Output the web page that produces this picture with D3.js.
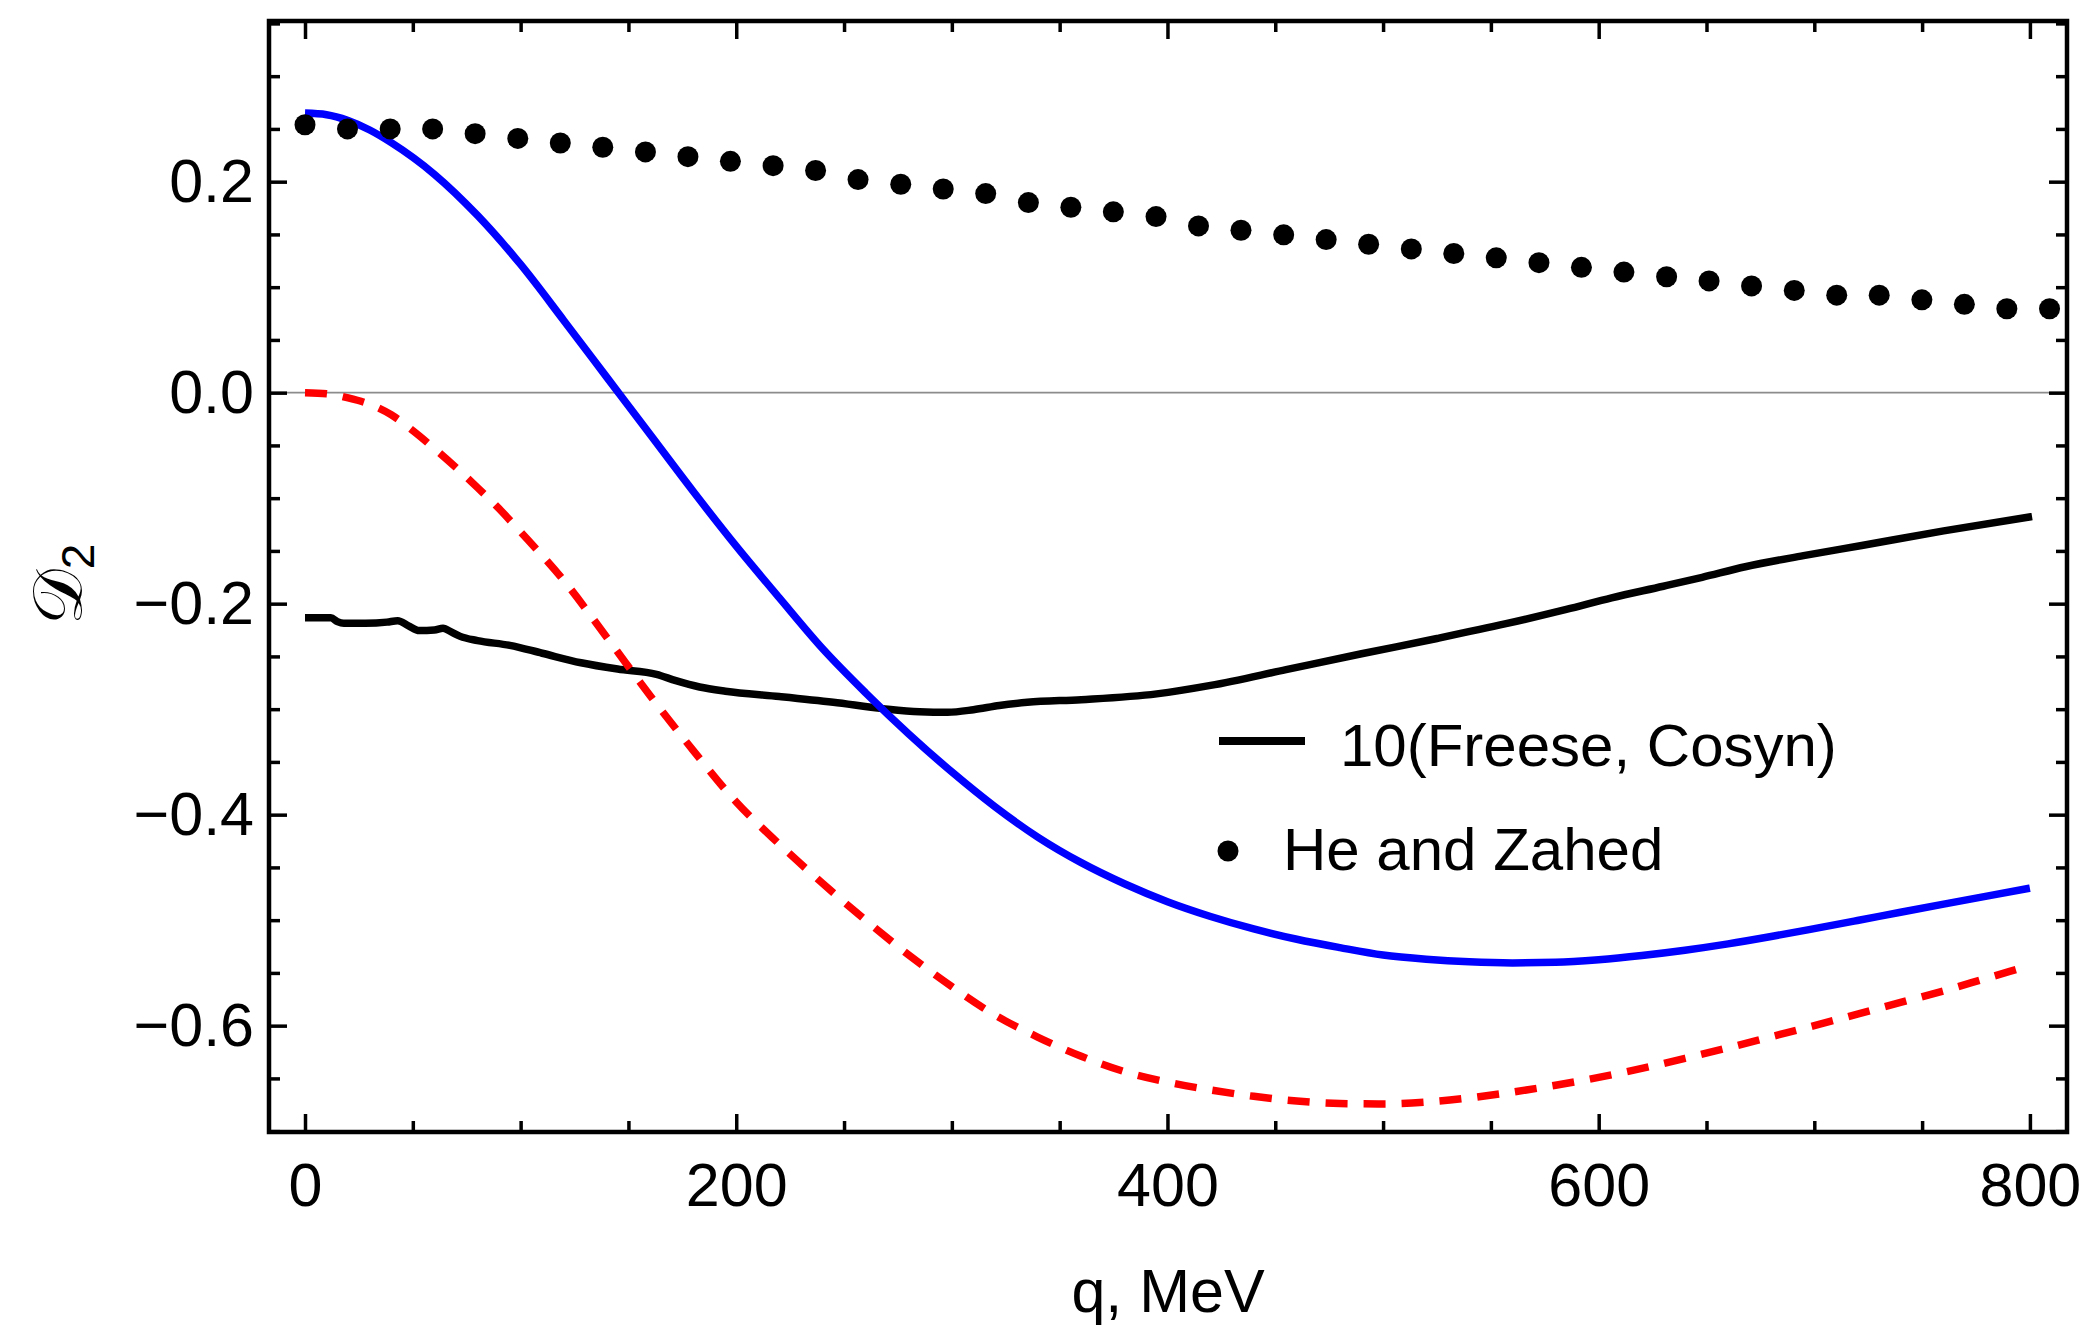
<!DOCTYPE html>
<html>
<head>
<meta charset="utf-8">
<script src="https://cdn.jsdelivr.net/npm/d3@7"></script>
<style>
  body { margin: 0; background: #fff; }
  text { font-family: "Liberation Sans", Arial, sans-serif; }
</style>
</head>
<body>
<div id="chart"></div>
<script>
// axis ticks
const qTicks = [0, 200, 400, 600, 800]
const qMinor = [50, 100, 150, 250, 300, 350, 450, 500, 550, 650, 700, 750]
const dTicks = [-0.6, -0.4, -0.2, 0, 0.2]
const dMinor = [-0.7, -0.65, -0.55, -0.5, -0.45, -0.35, -0.3, -0.25, -0.15, -0.1, -0.05, 0.05, 0.1, 0.15, 0.25, 0.3, 0.35]

// blue solid curve
const blueQ = [0, 10, 20, 30, 40, 60, 80, 100, 120, 140, 160, 180, 200, 220, 240, 260, 280, 300, 320, 340, 360, 380, 400, 420, 440, 460, 480, 500, 520, 540, 560, 580, 600, 620, 640, 660, 680, 700, 720, 740, 760, 780, 800]
const blueD = [0.265, 0.2635, 0.258, 0.249, 0.237, 0.207, 0.168, 0.1215, 0.0685, 0.0145, -0.0395, -0.0935, -0.1455, -0.1945, -0.2425, -0.2845, -0.3235, -0.3595, -0.3925, -0.4215, -0.4455, -0.4655, -0.4825, -0.4965, -0.5083, -0.5181, -0.5260, -0.5330, -0.5370, -0.5395, -0.5405, -0.5400, -0.5375, -0.5335, -0.5285, -0.5225, -0.5155, -0.5080, -0.5003, -0.4925, -0.4848, -0.4772, -0.4697]

// red dashed curve
const redQ = [0, 10, 20, 30, 40, 50, 60, 70, 80, 90, 100, 120, 140, 160, 180, 200, 220, 240, 260, 280, 300, 320, 340, 360, 380, 400, 420, 440, 460, 480, 500, 520, 540, 560, 580, 600, 620, 640, 660, 680, 700, 720, 740, 760, 780, 800]
const redD = [0.0, -0.001, -0.005, -0.011, -0.021, -0.036, -0.053, -0.071, -0.090, -0.110, -0.132, -0.178, -0.232, -0.287, -0.339, -0.388, -0.428, -0.465, -0.500, -0.533, -0.563, -0.590, -0.611, -0.629, -0.6435, -0.6535, -0.661, -0.667, -0.6715, -0.6738, -0.6742, -0.6725, -0.6685, -0.663, -0.6565, -0.649, -0.6405, -0.631, -0.621, -0.6105, -0.600, -0.589, -0.578, -0.567, -0.555, -0.543]

// 10(Freese, Cosyn)
const freeseQ = [0, 12, 15, 18, 28, 38, 43, 48, 53, 60, 64, 68, 72, 80, 95, 110, 128, 145, 163, 172, 183, 195, 220, 245, 268, 285, 298, 310, 322, 335, 360, 395, 420, 455, 490, 525, 557, 585, 606, 630, 648, 668, 695, 722, 760, 801]
const freeseD = [-0.2133, -0.2133, -0.2170, -0.2186, -0.2186, -0.2175, -0.2161, -0.2210, -0.2255, -0.2250, -0.2233, -0.2270, -0.2310, -0.2350, -0.2395, -0.2470, -0.2560, -0.2620, -0.2670, -0.2730, -0.2790, -0.2830, -0.2880, -0.2935, -0.2995, -0.3025, -0.3030, -0.3005, -0.2965, -0.2935, -0.2910, -0.2855, -0.2775, -0.2625, -0.2475, -0.2330, -0.2190, -0.2055, -0.1945, -0.1835, -0.1750, -0.1650, -0.1545, -0.1448, -0.1310, -0.1175]

// He and Zahed
const heQ = [0, 19.7, 39.5, 59.2, 78.9, 98.7, 118.4, 138.1, 157.9, 177.6, 197.3, 217.1, 236.8, 256.5, 276.3, 296.0, 315.7, 335.5, 355.2, 374.9, 394.7, 414.4, 434.1, 453.9, 473.6, 493.3, 513.1, 532.8, 552.5, 572.3, 592.0, 611.7, 631.5, 651.2, 670.9, 690.7, 710.4, 730.1, 749.9, 769.6, 789.3, 809.1]
const heD = [0.254, 0.250, 0.250, 0.250, 0.2455, 0.241, 0.2367, 0.2326, 0.2282, 0.2237, 0.2193, 0.2152, 0.2106, 0.2020, 0.1976, 0.1931, 0.1887, 0.1802, 0.1758, 0.1714, 0.1669, 0.1581, 0.1540, 0.1496, 0.1451, 0.1407, 0.1363, 0.1319, 0.1278, 0.1232, 0.1188, 0.1143, 0.1099, 0.1059, 0.1012, 0.0969, 0.0924, 0.0924, 0.0880, 0.0837, 0.0795, 0.0795]

const legendLabels = ["10(Freese, Cosyn)", "He and Zahed"]

const width = 2091
const height = 1326
const plotLeft = 269, plotRight = 2067, plotTop = 21, plotBottom = 1132
const fontSize = 61
const majorLen = 18
const minorLen = 11
const lineW = 7.5

const svg = d3.select("#chart")
  .append("svg")
  .attr("width", width)
  .attr("height", height)

svg.append("rect")
  .attr("width", width)
  .attr("height", height)
  .attr("fill", "white")

const x = d3.scaleLinear()
  .domain([-16.7, 817.2])
  .range([plotLeft, plotRight])
const y = d3.scaleLinear()
  .domain([-0.7008, 0.3523])
  .range([plotBottom, plotTop])

const zip = (a, b) => a.map((v, i) => [v, b[i]])

// zero line
svg.append("line")
  .attr("x1", plotLeft)
  .attr("x2", plotRight)
  .attr("y1", y(0))
  .attr("y2", y(0))
  .attr("stroke", "#8c8c8c")
  .attr("stroke-width", 1.6)

const line = d3.line()
  .x(d => x(d[0]))
  .y(d => y(d[1]))
  .curve(d3.curveMonotoneX)

svg.append("path")
  .datum(zip(freeseQ, freeseD))
  .attr("d", line)
  .attr("fill", "none")
  .attr("stroke", "black")
  .attr("stroke-width", lineW)
  .attr("stroke-linejoin", "round")

svg.append("path")
  .datum(zip(blueQ, blueD))
  .attr("d", line)
  .attr("fill", "none")
  .attr("stroke", "#0000ff")
  .attr("stroke-width", lineW)

svg.append("path")
  .datum(zip(redQ, redD))
  .attr("d", line)
  .attr("fill", "none")
  .attr("stroke", "#ff0000")
  .attr("stroke-width", lineW)
  .attr("stroke-dasharray", "22,16")

svg.append("g")
  .selectAll("circle")
  .data(zip(heQ, heD))
  .join("circle")
  .attr("cx", d => x(d[0]))
  .attr("cy", d => y(d[1]))
  .attr("r", 10.5)
  .attr("fill", "black")

// frame ticks, drawn with d3 axes pointing inward
function styleAxis(g) {
  g.select(".domain").remove()
  g.selectAll(".tick line").attr("stroke", "black").attr("stroke-width", 3.5)
  g.selectAll(".tick text")
    .attr("fill", "black")
    .style("font-size", fontSize + "px")
    .style("font-family", '"Liberation Sans", Arial, sans-serif')
}

svg.append("g")
  .attr("transform", `translate(0,${plotBottom})`)
  .call(d3.axisBottom(x).tickValues(qTicks).tickSize(-majorLen).tickPadding(31).tickFormat(d3.format("d")))
  .call(styleAxis)
svg.append("g")
  .attr("transform", `translate(0,${plotBottom})`)
  .call(d3.axisBottom(x).tickValues(qMinor).tickSize(-minorLen).tickFormat(""))
  .call(styleAxis)
svg.append("g")
  .attr("transform", `translate(0,${plotTop})`)
  .call(d3.axisTop(x).tickValues(qTicks).tickSize(-majorLen).tickFormat(""))
  .call(styleAxis)
svg.append("g")
  .attr("transform", `translate(0,${plotTop})`)
  .call(d3.axisTop(x).tickValues(qMinor).tickSize(-minorLen).tickFormat(""))
  .call(styleAxis)

svg.append("g")
  .attr("transform", `translate(${plotLeft},0)`)
  .call(d3.axisLeft(y).tickValues(dTicks).tickSize(-majorLen).tickPadding(15).tickFormat(d3.format(".1f")))
  .call(styleAxis)
svg.append("g")
  .attr("transform", `translate(${plotLeft},0)`)
  .call(d3.axisLeft(y).tickValues(dMinor).tickSize(-minorLen).tickFormat(""))
  .call(styleAxis)
svg.append("g")
  .attr("transform", `translate(${plotRight},0)`)
  .call(d3.axisRight(y).tickValues(dTicks).tickSize(-majorLen).tickFormat(""))
  .call(styleAxis)
svg.append("g")
  .attr("transform", `translate(${plotRight},0)`)
  .call(d3.axisRight(y).tickValues(dMinor).tickSize(-minorLen).tickFormat(""))
  .call(styleAxis)

// frame
svg.append("rect")
  .attr("x", plotLeft)
  .attr("y", plotTop)
  .attr("width", plotRight - plotLeft)
  .attr("height", plotBottom - plotTop)
  .attr("fill", "none")
  .attr("stroke", "black")
  .attr("stroke-width", 4.5)

// axis titles
svg.append("text")
  .attr("x", (plotLeft + plotRight) / 2)
  .attr("y", 1312)
  .attr("text-anchor", "middle")
  .attr("font-size", fontSize)
  .text("q, MeV")

const ylab = svg.append("text")
  .attr("transform", `translate(82,${(plotTop + plotBottom) / 2 + 8}) rotate(-90)`)
  .attr("text-anchor", "middle")
  .attr("font-size", 70)
ylab.append("tspan")
  .style("font-family", '"DejaVu Serif", "DejaVu Sans", serif')
  .text("\u{1D49F}")
ylab.append("tspan")
  .attr("font-size", 46)
  .attr("dy", 12)
  .text("2")

// legend
const legend = svg.append("g")
legend.append("line")
  .attr("x1", 1219)
  .attr("x2", 1305)
  .attr("y1", 741)
  .attr("y2", 741)
  .attr("stroke", "black")
  .attr("stroke-width", 8)
legend.append("text")
  .attr("x", 1340)
  .attr("y", 766)
  .attr("font-size", 60)
  .text(legendLabels[0])
legend.append("circle")
  .attr("cx", 1228)
  .attr("cy", 851)
  .attr("r", 10.5)
  .attr("fill", "black")
legend.append("text")
  .attr("x", 1283)
  .attr("y", 870)
  .attr("font-size", 60)
  .text(legendLabels[1])
</script>
</body>
</html>
